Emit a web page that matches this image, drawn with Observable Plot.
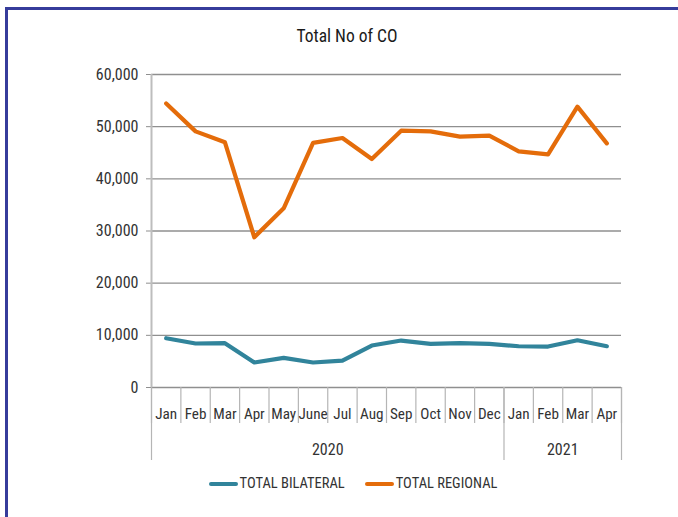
<!DOCTYPE html>
<html>
<head>
<meta charset="utf-8">
<script src="https://cdn.jsdelivr.net/npm/d3@7"></script>
<script src="https://cdn.jsdelivr.net/npm/@observablehq/plot@0.6"></script>
<style>
  html, body { margin: 0; padding: 0; background: #fff; }
  #wrap { position: relative; width: 678px; height: 517px; overflow: hidden; background: #fff;
          font-family: "Roboto Condensed", "Noto Sans Condensed", "Liberation Sans Narrow", "DejaVu Sans Condensed", sans-serif; color: #333; }
  #frame { position: absolute; left: 5px; top: 7px; width: 700px; height: 600px;
           border-left: 3px solid #363c9b; border-top: 3px solid #363c9b; }
  #title { position: absolute; top: 26px; left: 0; width: 694px; text-align: center; font-size: 17.5px; color: #1a1a1a; }
  #chart { position: absolute; left: 0; top: 0; }
  #legend { position: absolute; top: 475px; left: 0; width: 678px; display: flex; justify-content: center;
            padding-left: 28px; box-sizing: border-box; font-size: 14.5px; color: #333; }
  .item { display: flex; align-items: center; margin: 0 10px; }
  .sw { width: 29px; height: 4px; border-radius: 2px; margin-right: 2px; }
</style>
</head>
<body>
<div id="wrap">
  <div id="frame"></div>
  <div id="chart"></div>
  <div id="title">Total No of CO</div>
  <div id="legend"></div>
</div>
<script>
// ---- data ----
const months = ["Jan","Feb","Mar","Apr","May","June","Jul","Aug","Sep","Oct","Nov","Dec","Jan","Feb","Mar","Apr"];
const years  = ["2020","2020","2020","2020","2020","2020","2020","2020","2020","2020","2020","2020","2021","2021","2021","2021"];
const totalBilateral = [9450, 8430, 8490, 4790, 5680, 4790, 5170, 8050, 9000, 8360, 8490, 8360, 7910, 7850, 9060, 7910];
const totalRegional  = [54460, 49100, 47000, 28800, 34350, 46900, 47830, 43800, 49230, 49100, 48080, 48280, 45270, 44700, 53830, 46800];
const yTicks = [0, 10000, 20000, 30000, 40000, 50000, 60000];
const seriesNames = ["TOTAL BILATERAL", "TOTAL REGIONAL"];
const seriesColors = ["#31849b", "#e46c0a"];

// ---- derived tables ----
const rows = months.map((m, i) => ({ i, month: m, year: years[i], bilateral: totalBilateral[i], regional: totalRegional[i] }));
const monthEdges = d3.range(months.length + 1);
const monthCenters = months.map((m, i) => i + 0.5);
const yearGroups = d3.groups(rows, d => d.year).map(([year, g]) => ({ year, start: g[0].i, end: g[g.length - 1].i + 1 }));
const yearEdges = [0, ...yearGroups.map(g => g.end)];
const yearCenters = yearGroups.map(g => (g.start + g.end) / 2);

const fontFamily = '"Roboto Condensed", "Noto Sans Condensed", "Liberation Sans Narrow", "DejaVu Sans Condensed", sans-serif';

const chart = Plot.plot({
  width: 678,
  height: 470,
  marginLeft: 151,
  marginRight: 57,
  marginTop: 74,
  marginBottom: 83,
  style: { fontFamily, fontSize: "16px", color: "#333", background: "transparent", overflow: "visible" },
  x: { type: "linear", domain: [0, months.length], label: null },
  y: { domain: [0, 60000], label: null },
  marks: [
    Plot.gridY({ ticks: yTicks, stroke: "#8f8f8f", strokeOpacity: 1, strokeWidth: 1.3 }),
    Plot.axisY({ ticks: yTicks, tickSize: 5, tickPadding: 8, tickFormat: d3.format(","), stroke: "#8f8f8f", fill: "#333", fontSize: 16 }),
    Plot.axisX({ ticks: monthEdges, tickSize: 36, tickFormat: () => "", stroke: "#b5b5b5", strokeWidth: 1.2 }),
    Plot.axisX({ ticks: yearEdges, tickSize: 73, tickFormat: () => "", stroke: "#b5b5b5", strokeWidth: 1.2 }),
    Plot.axisX({ ticks: monthCenters, tickSize: 0, tickPadding: 20.5, tickFormat: d => months[Math.floor(d)], fill: "#333", fontSize: 15.2 }),
    Plot.axisX({ ticks: yearCenters, tickSize: 0, tickPadding: 56, tickFormat: d => yearGroups.find(g => (g.start + g.end) / 2 === d).year, fill: "#333", fontSize: 16 }),
    Plot.ruleX([0], { stroke: "#bdbdbd", strokeWidth: 2 }),
    Plot.line(rows, { x: d => d.i + 0.5, y: "bilateral", stroke: seriesColors[0], strokeWidth: 4.2, strokeLinejoin: "round" }),
    Plot.line(rows, { x: d => d.i + 0.5, y: "regional", stroke: seriesColors[1], strokeWidth: 4.2, strokeLinejoin: "round" })
  ]
});
document.getElementById("chart").appendChild(chart);

const legend = document.getElementById("legend");
seriesNames.forEach((name, k) => {
  const item = document.createElement("div");
  item.className = "item";
  const sw = document.createElement("span");
  sw.className = "sw";
  sw.style.background = seriesColors[k];
  const t = document.createElement("span");
  t.textContent = name;
  item.appendChild(sw);
  item.appendChild(t);
  legend.appendChild(item);
});
</script>
</body>
</html>
